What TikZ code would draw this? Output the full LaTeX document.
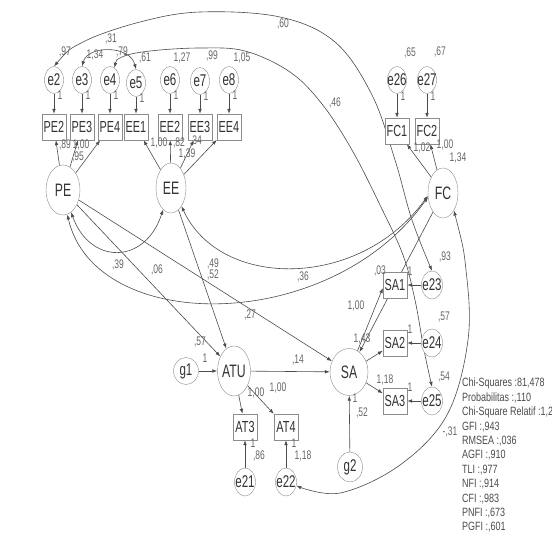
\documentclass[tikz,border=0pt]{standalone}
\usepackage{fontspec}
\setmainfont{Liberation Sans}
\newfontfamily\semfont[FakeStretch=0.68]{Liberation Sans}
\newfontfamily\statfont[FakeStretch=0.75]{Liberation Sans}
\usetikzlibrary{arrows.meta, positioning, calc, backgrounds, shapes.geometric}

\begin{document}
\begin{tikzpicture}[x=1pt, y=-1pt,
        err/.style={draw=black!45, ellipse, fill=white, minimum width=19pt, minimum height=27pt, inner xsep=-3pt, inner ysep=0pt, font=\semfont\fontsize{17}{17}\selectfont, text=black!80},
        errbig/.style={err, minimum width=21pt, minimum height=28pt},
        latent/.style={draw=black!45, ellipse, fill=white, minimum width=32pt, minimum height=50pt, inner xsep=-2pt, inner ysep=0pt, font=\semfont\fontsize{18}{18}\selectfont, text=black!80},
        box/.style={draw=black!45, rectangle, fill=white, minimum width=24pt, minimum height=26pt, inner sep=1pt, font=\semfont\fontsize{16}{16}\selectfont, text=black!80},
        lbl/.style={inner sep=0pt, font=\semfont\fontsize{12.5}{12.5}\selectfont, text=black!60},
        stats/.style={align=left, inner sep=0pt, font=\statfont\fontsize{12}{14.4}\selectfont, text=black!70},
        arrow/.style={-{Latex[length=5pt,width=3.6pt]}, draw=black!70, line width=0.6pt},
        cov/.style={{Latex[length=5pt,width=3.6pt]}-{Latex[length=5pt,width=3.6pt]}, draw=black!70, line width=0.6pt}
    ]
        \useasboundingbox (0,0) rectangle (552,552);

        % latent variables
        \node[latent, minimum width=34pt] (PE) at (63,190) {PE};
        \node[latent, minimum width=30pt] (EE) at (171,188) {EE};
        \node[latent, minimum width=30pt] (FC) at (443,193) {FC};
        \node[latent, minimum width=33pt] (ATU) at (234,371) {ATU};
        \node[latent, minimum width=38pt, minimum height=47pt] (SA) at (349,372) {SA};
        \node[err, minimum width=25pt, minimum height=27pt] (g1) at (186,371) {g1};
        \node[err, minimum width=25pt, minimum height=30pt] (g2) at (350,467) {g2};

        % indicators and their errors
        \foreach \ind/\e/\x/\ey in {PE2/e2/54/80, PE3/e3/82/80, PE4/e4/110/80, EE1/e5/136/83, EE2/e6/170/80, EE3/e7/200/81, EE4/e8/229/80}{
            \node[err] (\e) at (\x,\ey) {\e};
            \node[box] (\ind) at (\x,127) {\ind};
            \node[lbl] (\e-one) at (\x+6,\ey+15) {1};
        }
        \foreach \ind/\e/\x in {FC1/e26/397, FC2/e27/427}{
            \node[err] (\e) at (\x,80) {\e};
            \node[box] (\ind) at (\x,131) {\ind};
            \node[lbl] (\e-one) at (\x+6,96) {1};
        }
        \foreach \ind/\e/\y in {SA1/e23/285, SA2/e24/343, SA3/e25/401}{
            \node[box] (\ind) at (395,\y) {\ind};
            \node[errbig] (\e) at (432,\y) {\e};
            \node[lbl] (\e-one) at (410,\y-14) {1};
        }
        \foreach \ind/\e/\x in {AT3/e21/245, AT4/e22/286}{
            \node[box] (\ind) at (\x,427) {\ind};
            \node[errbig] (\e) at (\x,482) {\e};
            \node[lbl] (\e-one) at (\x+8,443) {1};
        }

        % estimates
        \node[lbl] (v2) at (65,52) {,97};
        \node[lbl] (v3) at (95,55) {1,34};
        \node[lbl] (v4) at (122,52) {,79};
        \node[lbl] (v5) at (145,58) {,61};
        \node[lbl] (v6) at (182,58) {1,27};
        \node[lbl] (v7) at (212,56) {,99};
        \node[lbl] (v8) at (242,58) {1,05};
        \node[lbl] (v26) at (410,53) {,65};
        \node[lbl] (v27) at (440,52) {,67};
        \node[lbl] (c31) at (111,39) {,31};
        \node[lbl] (c60) at (283,24) {,60};
        \node[lbl] (c46) at (335,103) {,46};
        \node[lbl] (lpe2) at (65,145) {,89};
        \node[lbl] (lpe3) at (81,145) {1,00};
        \node[lbl] (lpe4) at (78,157) {,95};
        \node[lbl] (lee1) at (159,143) {1,00};
        \node[lbl] (lee2) at (179,143) {,82};
        \node[lbl] (lee3) at (196,141) {,34};
        \node[lbl] (lee4) at (187,154) {1,39};
        \node[lbl] (lfc1) at (422,148) {1,02};
        \node[lbl] (lfc2) at (445,145) {1,00};
        \node[lbl] (vfc) at (458,158) {1,34};
        \node[lbl] (c39) at (118,265) {,39};
        \node[lbl] (c06) at (157,270) {,06};
        \node[lbl] (b49) at (213,264) {,49};
        \node[lbl] (b52) at (213,275) {,52};
        \node[lbl] (c36) at (303,277) {,36};
        \node[lbl] (b57) at (200,342) {,57};
        \node[lbl] (b27) at (250,315) {,27};
        \node[lbl] (g1-one) at (205,358) {1};
        \node[lbl] (b14) at (298,360) {,14};
        \node[lbl] (lat3) at (256,393) {1,00};
        \node[lbl] (lat4) at (278,388) {1,00};
        \node[lbl] (v21) at (259,456) {,86};
        \node[lbl] (v22) at (303,456) {1,18};
        \node[lbl] (b03) at (380,271) {,03};
        \node[lbl] (v23) at (445,257) {,93};
        \node[lbl] (lsa1) at (356,306) {1,00};
        \node[lbl] (lsa2) at (362,339) {1,43};
        \node[lbl] (v24) at (444,317) {,57};
        \node[lbl] (lsa3) at (385,380) {1,18};
        \node[lbl] (v25) at (444,377) {,54};
        \node[lbl] (g2-one) at (355,398) {1};
        \node[lbl] (vsa) at (362,413) {,52};
        \node[lbl] (c31b) at (450,432) {-,31};

        % fit indices
        \node[stats, anchor=north west] (fitstats) at (462,378) {Chi-Squares :81,478\\Probabilitas :,110\\Chi-Square Relatif :1,2\\GFI :,943\\RMSEA :,036\\AGFI :,910\\TLI :,977\\NFI :,914\\CFI :,983\\PNFI :,673\\PGFI :,601};

        \begin{scope}[on background layer]
            \fill[white] (0,0) rectangle (552,552);
            \foreach \e/\ind in {e2/PE2, e3/PE3, e4/PE4, e5/EE1, e6/EE2, e7/EE3, e8/EE4, e26/FC1, e27/FC2, e23/SA1, e24/SA2, e25/SA3, e21/AT3, e22/AT4}
                \draw[arrow] (\e) -- (\ind);
            \foreach \ind in {PE2, PE3, PE4}
                \draw[arrow] (PE) -- (\ind);
            \foreach \ind in {EE1, EE2, EE3, EE4}
                \draw[arrow] (EE) -- (\ind);
            \foreach \ind in {FC1, FC2}
                \draw[arrow] (FC) -- (\ind);
            \draw[arrow] (SA) -- ([yshift=-3pt]SA1.west);
            \draw[arrow] (SA) -- (SA2);
            \draw[arrow] (SA) -- (SA3);
            \draw[arrow] (FC) -- (SA);
            \draw[arrow] (g1) -- (ATU);
            \draw[arrow] (ATU) -- (SA);
            \draw[arrow] (g2) -- (SA);
            \draw[arrow] (ATU) -- (AT3);
            \draw[arrow] (ATU) -- (AT4);
            \draw[arrow] (PE) -- (ATU);
            \draw[arrow] (EE) -- (ATU);
            \draw[arrow] (PE) -- (SA);

            % covariances
            \draw[cov] (e3.north) .. controls (88,45) and (130,45) .. (e5.north);
            \draw[cov] plot[smooth, tension=0.6] coordinates {(e2.north) (83,42) (140,22) (200,12) (280,17) (335,42) (372,95) (395,160) (412,220) (e23.north)};
            \draw[cov] plot[smooth, tension=0.6] coordinates {(e4.70) (122,57) (150,51) (200,48) (245,51) (290,72) (322,104) (352,150) (380,205) (403,255) (415,300) (424,350) (e25.north)};
            \draw[cov] (PE.-70) .. controls (90,265) and (145,265) .. (EE.-110);
            \draw[cov] (PE.-80) .. controls (95,335) and (330,335) .. (FC.195);
            \draw[cov] (EE.-60) .. controls (220,290) and (360,290) .. (FC.190);
            \draw[cov] plot[smooth, tension=0.6] coordinates {(FC.-58) (466,270) (468,340) (447,415) (400,465) (340,493) (e22.-20)};
        \end{scope}
    \end{tikzpicture}
\end{document}
